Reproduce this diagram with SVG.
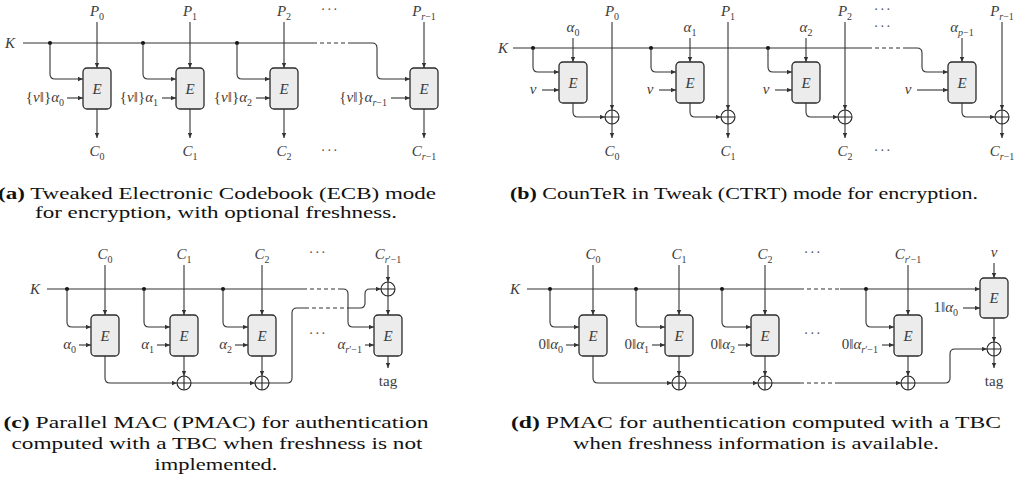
<svg xmlns="http://www.w3.org/2000/svg" width="1022" height="480" viewBox="0 0 1022 480">
<defs>
<marker id="ah" viewBox="0 0 6 6" refX="6" refY="3" markerWidth="6" markerHeight="5" orient="auto" markerUnits="userSpaceOnUse"><path d="M0,0.4 L6,3 L0,5.6 z" fill="#333"/></marker>
<style>
.m{font-family:"Liberation Serif","DejaVu Serif",serif;font-size:15px;font-style:italic;fill:#3c3c3c;text-anchor:middle}
.e{text-anchor:end}
.s{font-size:10px;font-style:normal}
.i{font-style:italic}
.n{font-style:normal}
.dots{font-family:"Liberation Serif",serif;font-size:14px;fill:#555;text-anchor:middle;letter-spacing:1.5px}
.ln{fill:none;stroke:#333;stroke-width:1.1}
.ar{marker-end:url(#ah)}
.da{stroke-dasharray:4 3}
.box{fill:#ececec;stroke:#2b2b2b;stroke-width:1.3}
.dot{fill:#111}
.xc{fill:#fff;stroke:#222;stroke-width:1.1}
.xl{stroke:#222;stroke-width:1.1}
.cap{font-family:"Liberation Serif",serif;font-size:16.5px;fill:#111;text-anchor:middle}
.b{font-weight:bold}
</style>
</defs>
<rect width="1022" height="480" fill="#fff"/>

<!-- ================= (a) ================= -->
<g id="a-nodes">
<g id="a-K"><text class="m" x="10" y="48">K</text></g>
<g id="a-E0"><rect class="box" x="83" y="68" width="28" height="41" rx="4"/><text class="m" x="97" y="94">E</text></g>
<g id="a-E1"><rect class="box" x="176" y="68" width="28" height="41" rx="4"/><text class="m" x="190" y="94">E</text></g>
<g id="a-E2"><rect class="box" x="270" y="68" width="28" height="41" rx="4"/><text class="m" x="284" y="94">E</text></g>
<g id="a-E3"><rect class="box" x="410" y="68" width="28" height="41" rx="4"/><text class="m" x="424" y="94">E</text></g>
<g id="a-P"><text class="m" x="97" y="16">P<tspan class="s" dy="3.5">0</tspan></text><text class="m" x="190" y="16">P<tspan class="s" dy="3.5">1</tspan></text><text class="m" x="284" y="16">P<tspan class="s" dy="3.5">2</tspan></text><text class="m" x="424" y="16">P<tspan class="s" dy="3.5"><tspan class="i">r</tspan>−1</tspan></text><text class="dots" x="330" y="14">···</text></g>
<g id="a-C"><text class="m" x="97" y="156">C<tspan class="s" dy="3.5">0</tspan></text><text class="m" x="190" y="156">C<tspan class="s" dy="3.5">1</tspan></text><text class="m" x="284" y="156">C<tspan class="s" dy="3.5">2</tspan></text><text class="m" x="424" y="156">C<tspan class="s" dy="3.5"><tspan class="i">r</tspan>−1</tspan></text><text class="dots" x="330" y="155">···</text></g>
<g id="a-T"><text class="m e" x="64" y="102"><tspan class="n">{</tspan>ν<tspan class="n">‖}</tspan>α<tspan class="s" dy="3.5">0</tspan></text><text class="m e" x="158" y="102"><tspan class="n">{</tspan>ν<tspan class="n">‖}</tspan>α<tspan class="s" dy="3.5">1</tspan></text><text class="m e" x="252" y="102"><tspan class="n">{</tspan>ν<tspan class="n">‖}</tspan>α<tspan class="s" dy="3.5">2</tspan></text><text class="m e" x="387" y="102"><tspan class="n">{</tspan>ν<tspan class="n">‖}</tspan>α<tspan class="s" dy="3.5"><tspan class="i">r</tspan>−1</tspan></text></g>
</g>
<g id="a-connectors">
<path class="ln" d="M23 43 H313"/><path class="ln da" d="M313 43 H350"/>
<path class="ln ar" d="M350 43 H372 Q377 43 377 48 V74 Q377 79 382 79 H410"/>
<circle class="dot" cx="50" cy="43" r="2"/><circle class="dot" cx="143" cy="43" r="2"/><circle class="dot" cx="237" cy="43" r="2"/>
<path class="ln ar" d="M50 43 V74 Q50 79 55 79 H83"/>
<path class="ln ar" d="M143 43 V74 Q143 79 148 79 H176"/>
<path class="ln ar" d="M237 43 V74 Q237 79 242 79 H270"/>
<path class="ln ar" d="M97 22 V68"/><path class="ln ar" d="M190 22 V68"/><path class="ln ar" d="M284 22 V68"/><path class="ln ar" d="M424 22 V68"/>
<path class="ln ar" d="M67 98 H83"/><path class="ln ar" d="M162 98 H176"/><path class="ln ar" d="M256 98 H270"/><path class="ln ar" d="M391 98 H410"/>
<path class="ln ar" d="M97 109 V138"/><path class="ln ar" d="M190 109 V138"/><path class="ln ar" d="M284 109 V138"/><path class="ln ar" d="M424 109 V138"/>
</g>
<g id="a-caption"><text class="cap" x="217" y="199" textLength="438" lengthAdjust="spacingAndGlyphs"><tspan class="b">(a)</tspan> Tweaked Electronic Codebook (ECB) mode</text><text class="cap" x="216" y="218" textLength="362" lengthAdjust="spacingAndGlyphs">for encryption, with optional freshness.</text></g>

<!-- ================= (b) ================= -->
<g id="b-nodes">
<g id="b-K"><text class="m" x="503" y="53">K</text></g>
<g id="b-E0"><rect class="box" x="559" y="62" width="28" height="41" rx="4"/><text class="m" x="573" y="88">E</text></g>
<g id="b-E1"><rect class="box" x="676" y="62" width="28" height="41" rx="4"/><text class="m" x="690" y="88">E</text></g>
<g id="b-E2"><rect class="box" x="792" y="62" width="28" height="41" rx="4"/><text class="m" x="806" y="88">E</text></g>
<g id="b-E3"><rect class="box" x="948" y="62" width="28" height="41" rx="4"/><text class="m" x="962" y="88">E</text></g>
<g id="b-X0"><circle class="xc" cx="612" cy="117" r="7"/><path class="xl" d="M605 117 H619 M612 110 V124"/></g>
<g id="b-X1"><circle class="xc" cx="728" cy="117" r="7"/><path class="xl" d="M721 117 H735 M728 110 V124"/></g>
<g id="b-X2"><circle class="xc" cx="845" cy="117" r="7"/><path class="xl" d="M838 117 H852 M845 110 V124"/></g>
<g id="b-X3"><circle class="xc" cx="1002" cy="117" r="7"/><path class="xl" d="M995 117 H1009 M1002 110 V124"/></g>
<g id="b-P"><text class="m" x="612" y="16">P<tspan class="s" dy="3.5">0</tspan></text><text class="m" x="728" y="16">P<tspan class="s" dy="3.5">1</tspan></text><text class="m" x="845" y="16">P<tspan class="s" dy="3.5">2</tspan></text><text class="m" x="1002" y="16">P<tspan class="s" dy="3.5"><tspan class="i">r</tspan>−1</tspan></text><text class="dots" x="883" y="14">···</text></g>
<g id="b-A"><text class="m" x="573" y="32">α<tspan class="s" dy="3.5">0</tspan></text><text class="m" x="690" y="32">α<tspan class="s" dy="3.5">1</tspan></text><text class="m" x="806" y="32">α<tspan class="s" dy="3.5">2</tspan></text><text class="m" x="962" y="32">α<tspan class="s" dy="3.5"><tspan class="i">p</tspan>−1</tspan></text><text class="dots" x="883" y="31">···</text></g>
<g id="b-N"><text class="m" x="533" y="94">ν</text><text class="m" x="650" y="94">ν</text><text class="m" x="766" y="94">ν</text><text class="m" x="908" y="94">ν</text></g>
<g id="b-C"><text class="m" x="612" y="156">C<tspan class="s" dy="3.5">0</tspan></text><text class="m" x="728" y="156">C<tspan class="s" dy="3.5">1</tspan></text><text class="m" x="845" y="156">C<tspan class="s" dy="3.5">2</tspan></text><text class="m" x="1002" y="156">C<tspan class="s" dy="3.5"><tspan class="i">r</tspan>−1</tspan></text><text class="dots" x="883" y="155">···</text></g>
</g>
<g id="b-connectors">
<path class="ln" d="M513 48 H868"/><path class="ln da" d="M868 48 H903"/>
<path class="ln ar" d="M903 48 H917 Q922 48 922 53 V67 Q922 72 927 72 H948"/>
<circle class="dot" cx="533" cy="48" r="2"/><circle class="dot" cx="651" cy="48" r="2"/><circle class="dot" cx="768" cy="48" r="2"/>
<path class="ln ar" d="M533 48 V67 Q533 72 538 72 H559"/>
<path class="ln ar" d="M651 48 V67 Q651 72 656 72 H676"/>
<path class="ln ar" d="M768 48 V67 Q768 72 773 72 H792"/>
<path class="ln ar" d="M573 38 V62"/><path class="ln ar" d="M690 38 V62"/><path class="ln ar" d="M806 38 V62"/><path class="ln ar" d="M962 38 V62"/>
<path class="ln ar" d="M542 90 H559"/><path class="ln ar" d="M659 90 H676"/><path class="ln ar" d="M775 90 H792"/><path class="ln ar" d="M917 90 H948"/>
<path class="ln ar" d="M573 103 V112 Q573 117 578 117 H605"/>
<path class="ln ar" d="M690 103 V112 Q690 117 695 117 H721"/>
<path class="ln ar" d="M806 103 V112 Q806 117 811 117 H838"/>
<path class="ln ar" d="M962 103 V112 Q962 117 967 117 H995"/>
<path class="ln ar" d="M612 22 V110"/><path class="ln ar" d="M728 22 V110"/><path class="ln ar" d="M845 22 V110"/><path class="ln ar" d="M1002 22 V110"/>
<path class="ln ar" d="M612 124 V138"/><path class="ln ar" d="M728 124 V138"/><path class="ln ar" d="M845 124 V138"/><path class="ln ar" d="M1002 124 V138"/>
</g>
<g id="b-caption"><text class="cap" x="744" y="199" textLength="468" lengthAdjust="spacingAndGlyphs"><tspan class="b">(b)</tspan> CounTeR in Tweak (CTRT) mode for encryption.</text></g>

<!-- ================= (c) ================= -->
<g id="c-nodes">
<g id="c-K"><text class="m" x="35" y="294">K</text></g>
<g id="c-E0"><rect class="box" x="91" y="315" width="28" height="41" rx="4"/><text class="m" x="105" y="341">E</text></g>
<g id="c-E1"><rect class="box" x="170" y="315" width="28" height="41" rx="4"/><text class="m" x="184" y="341">E</text></g>
<g id="c-E2"><rect class="box" x="248" y="315" width="28" height="41" rx="4"/><text class="m" x="262" y="341">E</text></g>
<g id="c-E3"><rect class="box" x="374" y="315" width="28" height="41" rx="4"/><text class="m" x="388" y="341">E</text></g>
<g id="c-X1"><circle class="xc" cx="184" cy="383" r="7"/><path class="xl" d="M177 383 H191 M184 376 V390"/></g>
<g id="c-X2"><circle class="xc" cx="262" cy="383" r="7"/><path class="xl" d="M255 383 H269 M262 376 V390"/></g>
<g id="c-X3"><circle class="xc" cx="388" cy="289" r="7"/><path class="xl" d="M381 289 H395 M388 282 V296"/></g>
<g id="c-C"><text class="m" x="105" y="259">C<tspan class="s" dy="3.5">0</tspan></text><text class="m" x="184" y="259">C<tspan class="s" dy="3.5">1</tspan></text><text class="m" x="262" y="259">C<tspan class="s" dy="3.5">2</tspan></text><text class="m" x="388" y="259">C<tspan class="s" dy="3.5"><tspan class="i">r</tspan>′−1</tspan></text><text class="dots" x="318" y="257">···</text></g>
<g id="c-A"><text class="m e" x="76" y="349">α<tspan class="s" dy="3.5">0</tspan></text><text class="m e" x="154" y="349">α<tspan class="s" dy="3.5">1</tspan></text><text class="m e" x="232" y="349">α<tspan class="s" dy="3.5">2</tspan></text><text class="m e" x="362" y="349">α<tspan class="s" dy="3.5"><tspan class="i">r</tspan>′−1</tspan></text><text class="dots" x="318" y="338">···</text></g>
<g id="c-tag"><text class="m n" x="388" y="386">tag</text></g>
</g>
<g id="c-connectors">
<path class="ln" d="M47 289 H303"/><path class="ln da" d="M303 289 H340"/>
<path class="ln ar" d="M340 289 H343 Q348 289 348 294 V322 Q348 327 353 327 H374"/>
<circle class="dot" cx="67" cy="289" r="2"/><circle class="dot" cx="144" cy="289" r="2"/><circle class="dot" cx="223" cy="289" r="2"/>
<path class="ln ar" d="M67 289 V322 Q67 327 72 327 H91"/>
<path class="ln ar" d="M144 289 V322 Q144 327 149 327 H170"/>
<path class="ln ar" d="M223 289 V322 Q223 327 228 327 H248"/>
<path class="ln ar" d="M105 265 V315"/><path class="ln ar" d="M184 265 V315"/><path class="ln ar" d="M262 265 V315"/><path class="ln ar" d="M388 265 V282"/>
<path class="ln ar" d="M79 345 H91"/><path class="ln ar" d="M157 345 H170"/><path class="ln ar" d="M235 345 H248"/><path class="ln ar" d="M365 345 H374"/>
<path class="ln ar" d="M105 356 V378 Q105 383 110 383 H177"/>
<path class="ln ar" d="M184 356 V376"/><path class="ln ar" d="M262 356 V376"/>
<path class="ln ar" d="M191 383 H255"/>
<path class="ln" d="M269 383 H287 Q292 383 292 378 V313 Q292 308 297 308 H305"/><path class="ln da" d="M305 308 H350"/>
<path class="ln ar" d="M350 308 H360 Q365 308 365 303 V294 Q365 289 370 289 H381"/>
<path class="ln ar" d="M388 296 V315"/>
<path class="ln ar" d="M388 356 V368"/>
</g>
<g id="c-caption"><text class="cap" x="216" y="428" textLength="425" lengthAdjust="spacingAndGlyphs"><tspan class="b">(c)</tspan> Parallel MAC (PMAC) for authentication</text><text class="cap" x="217" y="449" textLength="411" lengthAdjust="spacingAndGlyphs">computed with a TBC when freshness is not</text><text class="cap" x="216" y="470" textLength="123" lengthAdjust="spacingAndGlyphs">implemented.</text></g>

<!-- ================= (d) ================= -->
<g id="d-nodes">
<g id="d-K"><text class="m" x="515" y="294">K</text></g>
<g id="d-E0"><rect class="box" x="579" y="315" width="28" height="41" rx="4"/><text class="m" x="593" y="341">E</text></g>
<g id="d-E1"><rect class="box" x="665" y="315" width="28" height="41" rx="4"/><text class="m" x="679" y="341">E</text></g>
<g id="d-E2"><rect class="box" x="751" y="315" width="28" height="41" rx="4"/><text class="m" x="765" y="341">E</text></g>
<g id="d-E3"><rect class="box" x="894" y="315" width="28" height="41" rx="4"/><text class="m" x="908" y="341">E</text></g>
<g id="d-E4"><rect class="box" x="980" y="278" width="28" height="40" rx="4"/><text class="m" x="994" y="303">E</text></g>
<g id="d-X1"><circle class="xc" cx="679" cy="383" r="7"/><path class="xl" d="M672 383 H686 M679 376 V390"/></g>
<g id="d-X2"><circle class="xc" cx="765" cy="383" r="7"/><path class="xl" d="M758 383 H772 M765 376 V390"/></g>
<g id="d-X3"><circle class="xc" cx="908" cy="383" r="7"/><path class="xl" d="M901 383 H915 M908 376 V390"/></g>
<g id="d-X4"><circle class="xc" cx="994" cy="349" r="7"/><path class="xl" d="M987 349 H1001 M994 342 V356"/></g>
<g id="d-C"><text class="m" x="593" y="259">C<tspan class="s" dy="3.5">0</tspan></text><text class="m" x="679" y="259">C<tspan class="s" dy="3.5">1</tspan></text><text class="m" x="765" y="259">C<tspan class="s" dy="3.5">2</tspan></text><text class="m" x="908" y="259">C<tspan class="s" dy="3.5"><tspan class="i">r</tspan>′−1</tspan></text><text class="dots" x="813" y="257">···</text><text class="m" x="994" y="257">ν</text></g>
<g id="d-A"><text class="m e" x="563" y="349"><tspan class="n">0‖</tspan>α<tspan class="s" dy="3.5">0</tspan></text><text class="m e" x="649" y="349"><tspan class="n">0‖</tspan>α<tspan class="s" dy="3.5">1</tspan></text><text class="m e" x="735" y="349"><tspan class="n">0‖</tspan>α<tspan class="s" dy="3.5">2</tspan></text><text class="m e" x="878" y="349"><tspan class="n">0‖</tspan>α<tspan class="s" dy="3.5"><tspan class="i">r</tspan>′−1</tspan></text><text class="dots" x="813" y="338">···</text><text class="m e" x="958" y="312"><tspan class="n">1‖</tspan>α<tspan class="s" dy="3.5">0</tspan></text></g>
<g id="d-tag"><text class="m n" x="994" y="386">tag</text></g>
</g>
<g id="d-connectors">
<path class="ln" d="M527 289 H800"/><path class="ln da" d="M800 289 H840"/><path class="ln ar" d="M840 289 H980"/>
<circle class="dot" cx="550" cy="289" r="2"/><circle class="dot" cx="636" cy="289" r="2"/><circle class="dot" cx="722" cy="289" r="2"/><circle class="dot" cx="866" cy="289" r="2"/>
<path class="ln ar" d="M550 289 V322 Q550 327 555 327 H579"/>
<path class="ln ar" d="M636 289 V322 Q636 327 641 327 H665"/>
<path class="ln ar" d="M722 289 V322 Q722 327 727 327 H751"/>
<path class="ln ar" d="M866 289 V322 Q866 327 871 327 H894"/>
<path class="ln ar" d="M593 265 V315"/><path class="ln ar" d="M679 265 V315"/><path class="ln ar" d="M765 265 V315"/><path class="ln ar" d="M908 265 V315"/><path class="ln ar" d="M994 263 V278"/>
<path class="ln ar" d="M566 345 H579"/><path class="ln ar" d="M652 345 H665"/><path class="ln ar" d="M738 345 H751"/><path class="ln ar" d="M882 345 H894"/><path class="ln ar" d="M963 308 H980"/>
<path class="ln ar" d="M593 356 V378 Q593 383 598 383 H672"/>
<path class="ln ar" d="M679 356 V376"/><path class="ln ar" d="M765 356 V376"/><path class="ln ar" d="M908 356 V376"/>
<path class="ln ar" d="M686 383 H758"/>
<path class="ln" d="M772 383 H800"/><path class="ln da" d="M800 383 H835"/><path class="ln ar" d="M835 383 H901"/>
<path class="ln ar" d="M915 383 H945 Q950 383 950 378 V354 Q950 349 955 349 H987"/>
<path class="ln ar" d="M994 318 V342"/>
<path class="ln ar" d="M994 356 V368"/>
</g>
<g id="d-caption"><text class="cap" x="756" y="428" textLength="490" lengthAdjust="spacingAndGlyphs"><tspan class="b">(d)</tspan> PMAC for authentication computed with a TBC</text><text class="cap" x="756" y="449" textLength="366" lengthAdjust="spacingAndGlyphs">when freshness information is available.</text></g>
</svg>
